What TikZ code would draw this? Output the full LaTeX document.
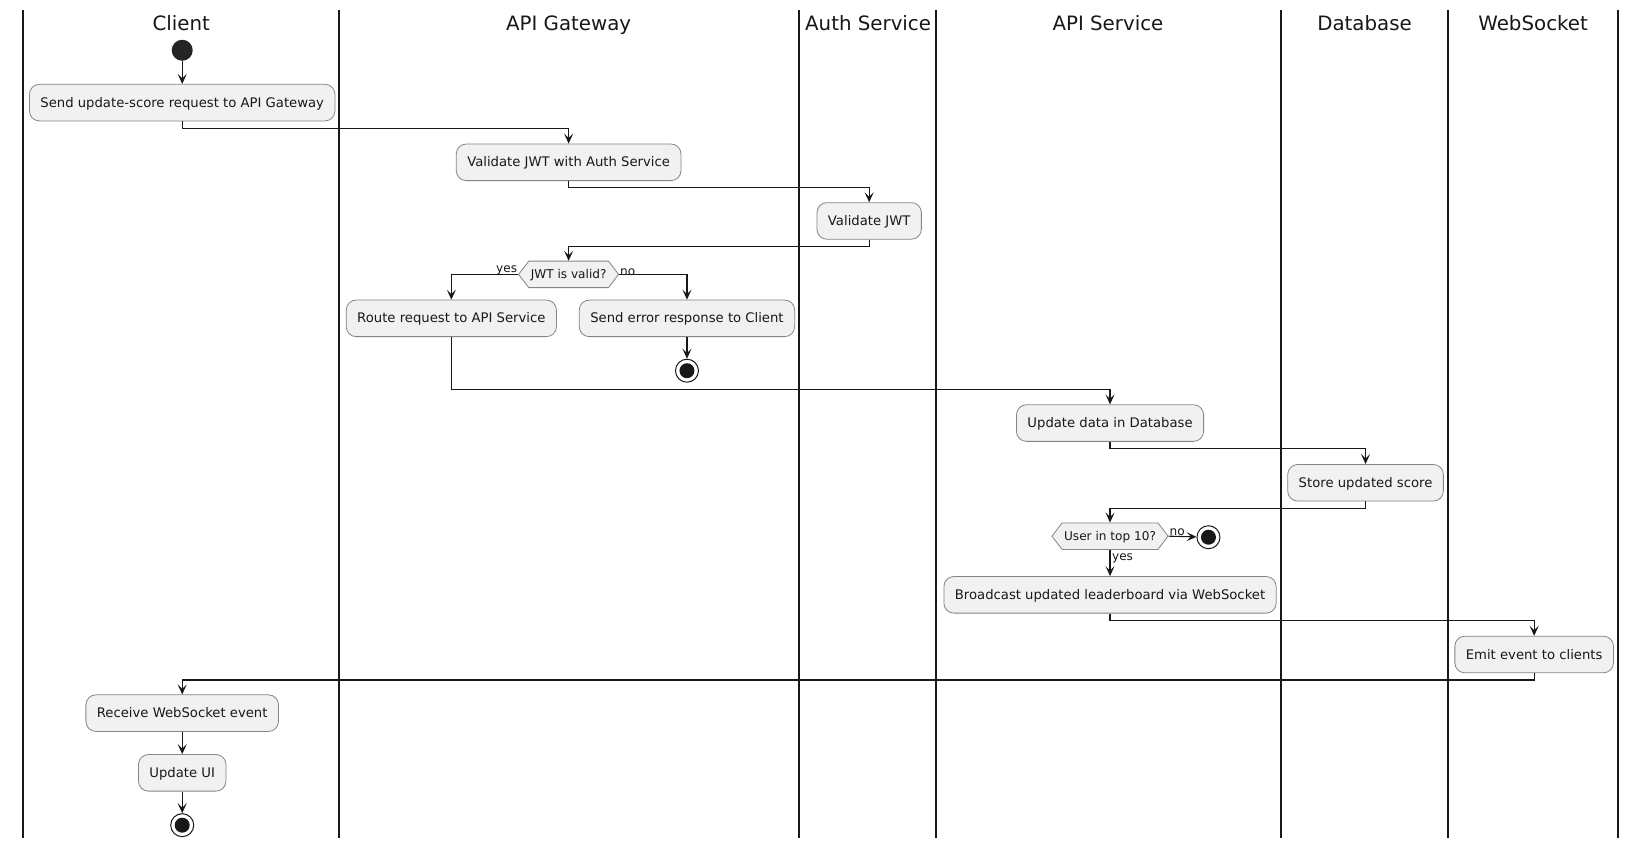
\documentclass[tikz,border=0pt]{standalone}
\usepackage{fontspec}
\setmainfont{DejaVu Sans}
\usetikzlibrary{arrows.meta,shapes.symbols}
\definecolor{boxfill}{HTML}{F1F1F1}
\definecolor{boxline}{HTML}{858585}
\definecolor{ink}{HTML}{181818}
\tikzset{
  act/.style={draw=boxline, line width=0.8pt, fill=boxfill, rounded corners=10pt,
    minimum height=36.6pt, inner xsep=11pt, inner ysep=0pt, text=ink,
    text height=9.6pt, text depth=0.6pt,
    font=\fontsize{13.2}{15}\selectfont},
  dec/.style={draw=boxline, line width=0.8pt, fill=boxfill, shape=signal,
    signal to=east and west, signal pointer angle=105, minimum height=26.5pt,
    inner xsep=2pt, inner ysep=0pt, text=ink, text height=8.8pt, text depth=0.6pt,
    font=\fontsize{12.1}{14}\selectfont},
  startnode/.style={circle, fill=ink!95, draw=none, minimum size=21pt, inner sep=0pt},
  stopnode/.style={circle, draw=ink, line width=1pt, fill=white, minimum size=23pt, inner sep=0pt,
    path picture={\fill[ink] (path picture bounding box.center) circle (7.5pt);}},
  arr/.style={draw=ink, line width=1.1pt, -{Stealth[length=10pt, width=9pt, inset=4.5pt]}},
  lbl/.style={text=ink, font=\fontsize{12.1}{14}\selectfont, inner sep=0.5pt},
  lane/.style={draw=ink, line width=1.6pt},
  title/.style={text=ink, font=\fontsize{19.8}{22}\selectfont, inner sep=0pt, anchor=base}
}
\begin{document}
\begin{tikzpicture}[x=1.04719pt, y=-1.04719pt]
\useasboundingbox[fill=white] (0,0) rectangle (1568,817);
% swimlane borders
\foreach \lx in {22,324,763,894,1223,1383,1545}
  \draw[lane] (\lx,10) -- (\lx,800);
% titles
\node[title] (tClient) at (173,29) {Client};
\node[title] (tGateway) at (543,29) {API Gateway};
\node[title] (tAuth) at (829,29) {Auth Service};
\node[title] (tApi) at (1058,29) {API Service};
\node[title] (tDb) at (1303,29) {Database};
\node[title] (tWs) at (1464,29) {WebSocket};
% nodes
\node[startnode] (start) at (174,48) {};
\node[act] (a1) at (174,98) {Send update-score request to API Gateway};
\node[act] (a2) at (543,155) {Validate JWT with Auth Service};
\node[act] (a3) at (830,211) {Validate JWT};
\node[dec] (d1) at (543,262) {JWT is valid?};
\node[act] (a4) at (431,304) {Route request to API Service};
\node[act] (a5) at (656,304) {Send error response to Client};
\node[stopnode] (stop1) at (656,354) {};
\node[act] (a6) at (1060,404) {Update data in Database};
\node[act] (a7) at (1304,461) {Store updated score};
\node[dec] (d2) at (1060,512) {User in top 10?};
\node[stopnode] (stop2) at (1154,513) {};
\node[act] (a8) at (1060,568) {Broadcast updated leaderboard via WebSocket};
\node[act] (a9) at (1465,625) {Emit event to clients};
\node[act] (a10) at (174,681) {Receive WebSocket event};
\node[act] (a11) at (174,738) {Update UI};
\node[stopnode] (stop3) at (174,788) {};
% connectors
\draw[arr] (start) -- (a1);
\draw[arr] (a1.south) -- ++(0,7) -| (a2.north);
\draw[arr] (a2.south) -- ++(0,6.5) -| (a3.north);
\draw[arr] (a3.south) -- ++(0,6.5) -| (d1.north);
\draw[arr] (d1.west) node[lbl, anchor=south east, yshift=-2pt] {yes} -| (a4.north);
\draw[arr] (d1.east) node[lbl, anchor=south west, yshift=-2pt] {no} -| (a5.north);
\draw[arr] (a5) -- (stop1);
\draw[arr] (a4.south) -- ++(0,50) -| (a6.north);
\draw[arr] (a6.south) -- ++(0,6.5) -| (a7.north);
\draw[arr] (a7.south) -- ++(0,6.5) -| (d2.north);
\draw[arr] (d2.east) node[lbl, anchor=south west, yshift=-1pt] {no} -- (stop2);
\draw[arr] (d2.south) node[lbl, anchor=north west, xshift=1pt, yshift=-3pt] {yes} -- (a8.north);
\draw[arr] (a8.south) -- ++(0,6.5) -| (a9.north);
\draw[arr] (a9.south) -- ++(0,6.5) -| (a10.north);
\draw[arr] (a10) -- (a11);
\draw[arr] (a11) -- (stop3);
\end{tikzpicture}
\end{document}
